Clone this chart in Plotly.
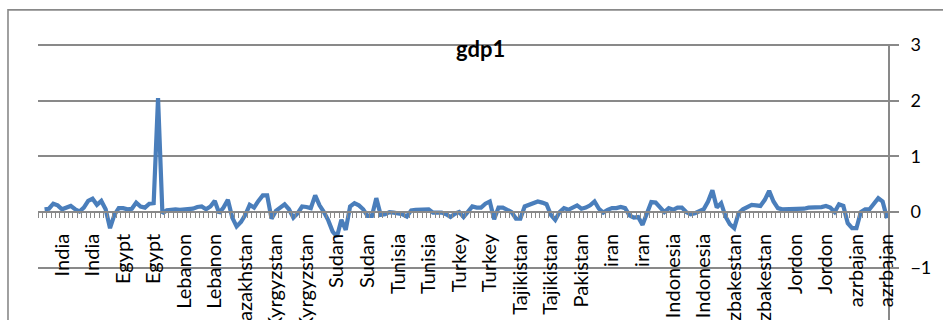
import plotly.graph_objects as go

# gdp1 observations, one per country-year, in sheet order
gdp1 = [
    0.05, 0.06, 0.15, 0.12, 0.05, 0.08, 0.11, 0.05, 0.01, 0.08,
    0.20, 0.24, 0.13, 0.20, 0.05, -0.29, -0.05, 0.07, 0.07, 0.05,
    0.06, 0.17, 0.10, 0.08, 0.15, 0.16, 2.05, -0.02, 0.03, 0.04,
    0.05, 0.04, 0.05, 0.05, 0.06, 0.09, 0.10, 0.05, 0.10, 0.20,
    -0.02, 0.08, 0.22, -0.10, -0.26, -0.18, -0.05, 0.13, 0.08, 0.20,
    0.30, 0.30, -0.12, 0.02, 0.08, 0.14, 0.05, -0.10, -0.02, 0.10,
    0.09, 0.07, 0.30, 0.12, 0.00, -0.15, -0.35, -0.44, -0.14, -0.32,
    0.10, 0.16, 0.12, 0.05, -0.07, -0.07, 0.25, -0.05, -0.04, 0.00,
    -0.01, -0.02, -0.04, -0.08, 0.03, 0.04, 0.04, 0.04, 0.05, -0.01,
    -0.01, -0.01, -0.04, -0.09, -0.03, 0.00, -0.09, 0.00, 0.10, 0.08,
    0.08, 0.15, 0.19, -0.13, 0.08, 0.08, 0.04, 0.00, -0.12, -0.12,
    0.10, 0.13, 0.17, 0.19, 0.17, 0.14, -0.05, -0.14, 0.00, 0.07,
    0.04, 0.08, 0.12, 0.06, 0.08, 0.12, 0.19, 0.06, -0.01, 0.04,
    0.07, 0.07, 0.09, 0.07, -0.06, -0.10, -0.09, -0.23, -0.02, 0.18,
    0.17, 0.08, 0.00, 0.07, 0.04, 0.08, 0.08, 0.00, -0.04, -0.02,
    0.01, 0.05, 0.19, 0.39, 0.08, 0.16, -0.08, -0.22, -0.29, -0.02,
    0.05, 0.09, 0.13, 0.12, 0.11, 0.22, 0.38, 0.19, 0.07, 0.05,
    0.05, 0.05, 0.05, 0.05, 0.06, 0.08, 0.08, 0.09, 0.09, 0.11,
    0.08, 0.00, 0.14, 0.11, -0.20, -0.29, -0.29, 0.00, 0.05, 0.05,
    0.15, 0.25, 0.19, -0.11,
]

# category labels shown along the axis (every 7th observation)
country_labels = [
    "India", "India", "Egypt", "Egypt", "Lebanon", "Lebanon", "Kazakhstan",
    "Kyrgyzstan", "Kyrgyzstan", "Sudan", "Sudan", "Tunisia", "Tunisia",
    "Turkey", "Turkey", "Tajikistan", "Tajikistan", "Pakistan", "iran", "iran",
    "Indonesia", "Indonesia", "Uzbakestan", "Uzbakestan", "Jordon", "Jordon",
    "azrbajan", "azrbajan",
]
label_first = 4
label_step = 7

y_ticks = [-1, 0, 1, 2, 3]

obs = list(range(len(gdp1)))
label_pos = [label_first + label_step * k for k in range(len(country_labels))]

GRID = "#898989"
FONT = "Lato, 'Noto Sans', sans-serif"

y_range = [-1.94, 3.02]
x_range = [-1.5, len(gdp1) - 1 + 0.23]
zero_pos = (0 - y_range[0]) / (y_range[1] - y_range[0])

fig = go.Figure()
fig.add_trace(go.Scatter(
    x=obs, y=gdp1, mode="lines",
    line=dict(color="#4A7EBB", width=4.2),
    showlegend=False, hoverinfo="skip",
))

fig.update_layout(
    width=943, height=320,
    margin=dict(l=38, r=55, t=44, b=0, autoexpand=False),
    paper_bgcolor="white", plot_bgcolor="white",
    font=dict(family=FONT, size=18, color="black"),
    xaxis=dict(
        range=x_range, automargin=False,
        anchor="free", position=zero_pos,
        showgrid=False, zeroline=False,
        showline=True, linecolor=GRID, linewidth=1.6,
        tickmode="array", tickvals=label_pos, ticktext=country_labels,
        tickangle=-90, ticks="", ticklabelstandoff=13,
        tickfont=dict(family=FONT, size=20, color="black"),
        minor=dict(ticks="outside", ticklen=5, tickwidth=1.3, tickcolor=GRID,
                   tickmode="linear", tick0=-0.5, dtick=1, showgrid=False),
    ),
    yaxis=dict(
        range=y_range, side="right", automargin=False,
        tickmode="array", tickvals=y_ticks,
        showgrid=True, gridcolor=GRID, gridwidth=1.6,
        zeroline=False,
        showline=True, linecolor=GRID, linewidth=1.6,
        ticks="outside", ticklen=9, tickwidth=1.6, tickcolor=GRID,
        ticklabelstandoff=8,
        tickfont=dict(family=FONT, size=18, color="black"),
    ),
    annotations=[dict(
        text="<b>gdp1</b>", xref="paper", yref="paper",
        x=0.521, y=0.982, xanchor="center", yanchor="middle",
        showarrow=False, font=dict(family=FONT, size=22, color="black"),
    )],
    shapes=[dict(
        type="rect", xref="paper", yref="paper",
        x0=-0.0353, x1=1.2, y0=-0.5, y1=1.1236,
        line=dict(color=GRID, width=1.6), fillcolor="rgba(0,0,0,0)",
        layer="below",
    )],
)

fig.write_html("out.html")
